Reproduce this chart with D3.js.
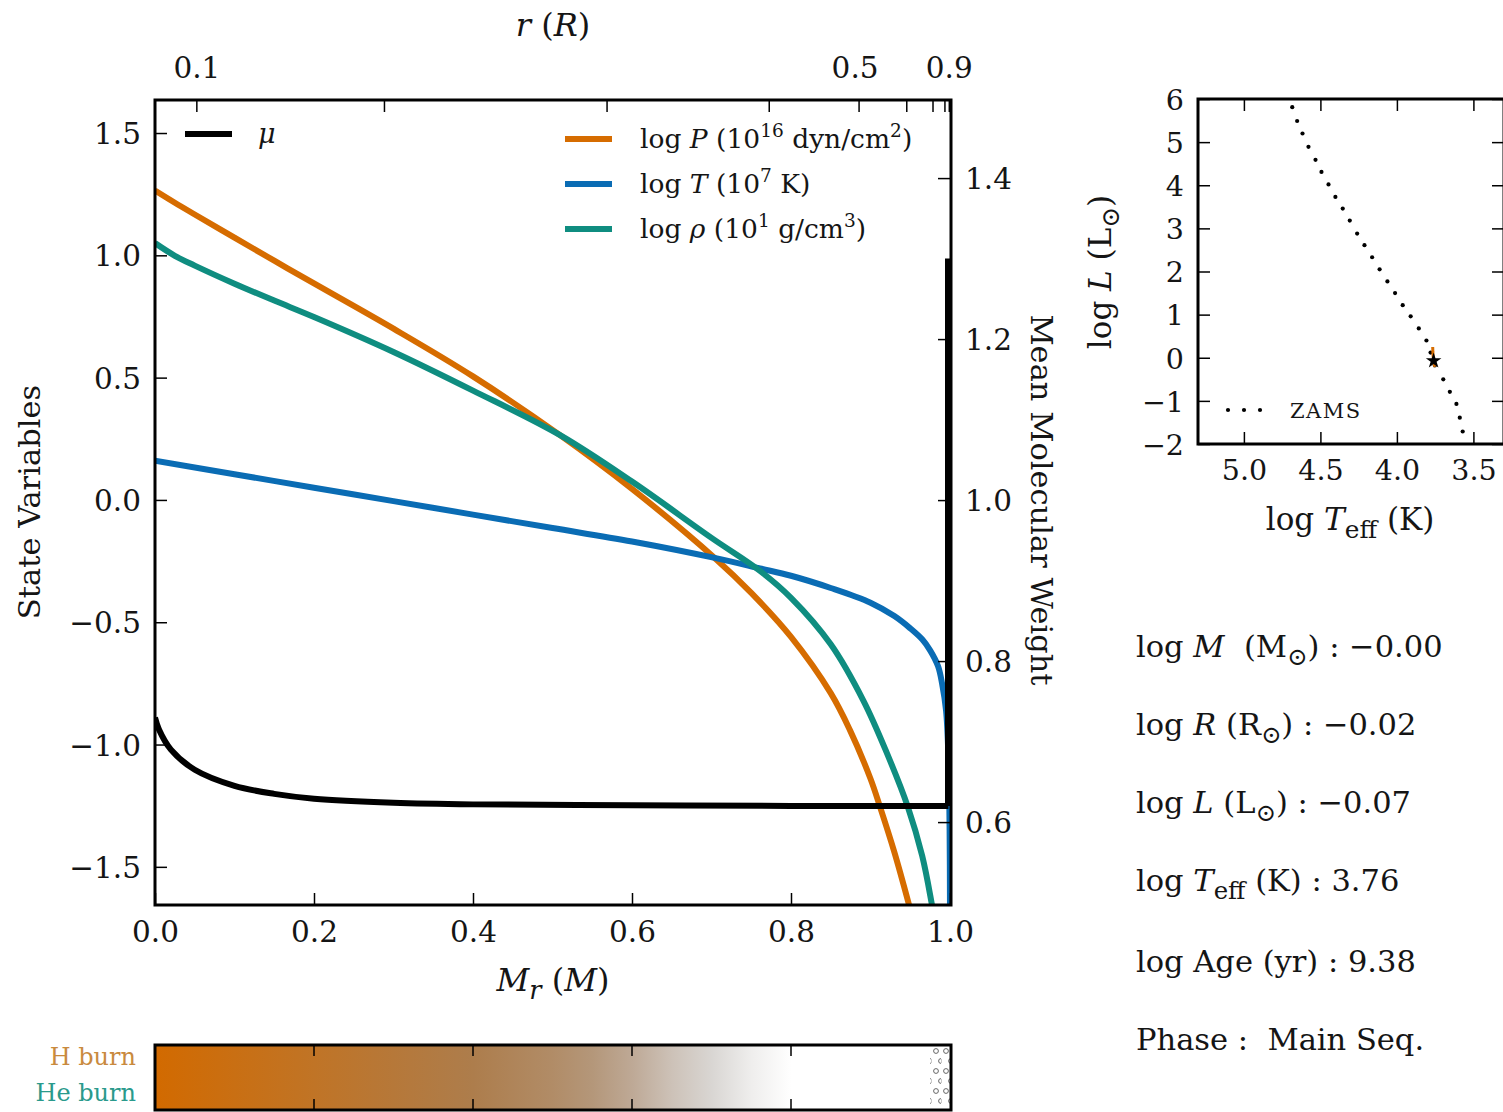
<!DOCTYPE html>
<html><head><meta charset="utf-8">
<script src="https://cdn.jsdelivr.net/npm/d3@7"></script>
<style>
body{margin:0;background:#fff}
svg{display:block}
text{font-family:"DejaVu Serif","Liberation Serif",serif;fill:#151515;white-space:pre}
</style>
</head><body>
<svg id="chart" width="1503" height="1112"></svg>
<script>
// ---- Stellar interior profiles vs. enclosed mass fraction M_r/M ----
const massP   = [0, 0.025, 0.05, 0.1, 0.15, 0.2, 0.3, 0.4, 0.509, 0.6, 0.704, 0.75, 0.8, 0.85, 0.874, 0.9, 0.912, 0.93, 0.948, 0.96];
const logP    = [1.265, 1.215, 1.167, 1.072, 0.978, 0.885, 0.70, 0.505, 0.266, 0.045, -0.237, -0.38, -0.56, -0.79, -0.94, -1.14, -1.255, -1.44, -1.65, -1.80];

const massT   = [0, 0.1, 0.2, 0.3, 0.4, 0.5, 0.6, 0.704, 0.761, 0.8, 0.85, 0.9, 0.93, 0.95, 0.965, 0.975, 0.985, 0.99, 0.995, 0.998, 0.9995, 1.0];
const logT    = [0.16, 0.105, 0.05, -0.005, -0.06, -0.115, -0.17, -0.237, -0.28, -0.31, -0.36, -0.42, -0.475, -0.525, -0.57, -0.615, -0.68, -0.75, -0.86, -1.05, -1.35, -1.7];

const massRho = [0, 0.025, 0.05, 0.1, 0.15, 0.2, 0.3, 0.4, 0.509, 0.6, 0.7, 0.761, 0.8, 0.85, 0.891, 0.92, 0.947, 0.965, 0.977, 0.99];
const logRho  = [1.05, 0.998, 0.958, 0.884, 0.815, 0.748, 0.605, 0.447, 0.266, 0.075, -0.155, -0.29, -0.40, -0.59, -0.82, -1.03, -1.255, -1.455, -1.65, -1.9];

const massMu  = [0, 0.005, 0.02, 0.05, 0.1, 0.15, 0.2, 0.3, 0.4, 0.6, 0.8, 0.99, 0.998, 1.0];
const mu      = [0.73, 0.715, 0.69, 0.665, 0.645, 0.635, 0.629, 0.624, 0.622, 0.621, 0.62, 0.62, 0.62, 1.30];

// radius fraction r/R at which each top-axis tick sits, and its mass coordinate
const rTicks  = [0.1, 0.2, 0.3, 0.4, 0.5, 0.6, 0.7, 0.8, 0.9];
const rMass   = [0.052, 0.288, 0.568, 0.772, 0.885, 0.945, 0.978, 0.993, 0.9985];
const rLabeled = [0.1, 0.5, 0.9];

const xTicks  = [0, 0.2, 0.4, 0.6, 0.8, 1.0];
const yLTicks = [-1.5, -1.0, -0.5, 0, 0.5, 1.0, 1.5];
const yRTicks = [0.6, 0.8, 1.0, 1.2, 1.4];

// nuclear burning rate (normalised) along the mass coordinate
const burnMass = [0, 0.1, 0.2, 0.3, 0.4, 0.5, 0.55, 0.6, 0.65, 0.7, 0.75, 0.8, 1.0];
const hBurn    = [1.0, 0.9, 0.8, 0.7, 0.6, 0.48, 0.4, 0.3, 0.2, 0.12, 0.05, 0.0, 0.0];
const convEnvelope = [0.975, 1.0];

// HR diagram: zero-age main sequence and the star's track
const zamsT = [4.684, 4.652, 4.617, 4.578, 4.532, 4.493, 4.447, 4.402, 4.354, 4.308, 4.260, 4.212, 4.162, 4.113, 4.062, 4.012, 3.962, 3.910, 3.857, 3.807, 3.780, 3.752, 3.697, 3.654, 3.611, 3.589, 3.570];
const zamsL = [5.81, 5.49, 5.20, 4.89, 4.59, 4.31, 4.02, 3.73, 3.46, 3.18, 2.88, 2.61, 2.33, 2.05, 1.77, 1.50, 1.22, 0.96, 0.68, 0.40, 0.12, -0.18, -0.50, -0.79, -1.07, -1.39, -1.71];
const trackT = [3.766, 3.765, 3.763, 3.760, 3.756, 3.752];
const trackL = [0.25, 0.14, 0.03, -0.07, -0.15, -0.21];
const hrXTicks = [5.0, 4.5, 4.0, 3.5];
const hrYTicks = [-2, -1, 0, 1, 2, 3, 4, 5, 6];

// current model summary
const infoKeys   = ["M", "R", "L", "Teff", "Age", "Phase"];
const infoValues = [-0.00, -0.02, -0.07, 3.76, 9.38, "Main Seq."];

const colP = "#d66c00", colT = "#0a6cb4", colRho = "#0f8d80";

const svg = d3.select("#chart");
const fmtMinus = s => s.replace("-", "\u2212");
const fmtSigned = v => ((v < 0 || Object.is(v, -0)) ? "\u2212" : "") + Math.abs(v).toFixed(2);

function richText(g, x, y, parts, size, anchor) {
  const t = g.append("text").attr("x", x).attr("y", y)
    .attr("font-size", size).attr("text-anchor", anchor || "start");
  let off = 0;
  parts.forEach(p => {
    const o = typeof p === "string" ? {t: p} : p;
    const target = o.sup ? -size * 0.42 : o.sub ? size * 0.25 : 0;
    const s = t.append("tspan").attr("dy", target - off).text(o.t);
    off = target;
    if (o.sup || o.sub) s.attr("font-size", size * (o.big ? 0.8 : 0.7));
    if (o.i) s.attr("font-style", "italic");
  });
  return t;
}

// ---------- main profile panel ----------
const P = {left: 155, right: 951, top: 100, bottom: 905};
const x  = d3.scaleLinear().domain([0, 1]).range([P.left, P.right - 1]);
const yL = d3.scaleLinear().domain([-1.656, 1.635]).range([P.bottom, P.top]);
const yR = d3.scaleLinear().domain([0.497, 1.497]).range([P.bottom, P.top]);

svg.append("clipPath").attr("id", "clipMain").append("rect")
  .attr("x", P.left).attr("y", P.top).attr("width", P.right - P.left).attr("height", P.bottom - P.top);

const main = svg.append("g");
const lines = main.append("g").attr("clip-path", "url(#clipMain)");
const smooth = d3.curveCatmullRom.alpha(0.5);

function profile(ms, vs, ys, color, w) {
  const pts = ms.map((m, i) => [m, vs[i]]);
  lines.append("path").datum(pts)
    .attr("fill", "none").attr("stroke", color).attr("stroke-width", w)
    .attr("stroke-linejoin", "round")
    .attr("d", d3.line().x(d => x(d[0])).y(d => ys(d[1])).curve(smooth));
}
profile(massP, logP, yL, colP, 6);
profile(massT, logT, yL, colT, 6);
profile(massRho, logRho, yL, colRho, 6);
// mean molecular weight: jump at the surface drawn as a vertical segment
const muPts = massMu.map((m, i) => [m, mu[i]]);
lines.append("path").datum(muPts.slice(0, -1))
  .attr("fill", "none").attr("stroke", "#000").attr("stroke-width", 6)
  .attr("d", d3.line().x(d => x(d[0])).y(d => yR(d[1])).curve(smooth));
lines.append("path").datum(muPts.slice(-2))
  .attr("fill", "none").attr("stroke", "#000").attr("stroke-width", 6)
  .attr("d", d3.line().x(d => Math.min(x(d[0]), P.right - 3)).y(d => yR(d[1])).curve(d3.curveStepAfter));

// axes (ticks pointing inward)
const tickLen = 12;
const axB = main.append("g").attr("transform", `translate(0,${P.bottom})`)
  .call(d3.axisBottom(x).tickValues(xTicks).tickSizeInner(-tickLen).tickSizeOuter(0).tickPadding(16)
    .tickFormat(d3.format(".1f")));
const axL = main.append("g").attr("transform", `translate(${P.left},0)`)
  .call(d3.axisLeft(yL).tickValues(yLTicks).tickSizeInner(-tickLen).tickSizeOuter(0).tickPadding(14)
    .tickFormat(d => fmtMinus(d3.format(".1f")(d))));
const axR = main.append("g").attr("transform", `translate(${P.right - 1},0)`)
  .call(d3.axisRight(yR).tickValues(yRTicks).tickSizeInner(-tickLen).tickSizeOuter(0).tickPadding(15)
    .tickFormat(d3.format(".1f")));
const xTop = d3.scaleLinear().domain([0, 1]).range([P.left, P.right - 1]);
const axT = main.append("g").attr("transform", `translate(0,${P.top})`)
  .call(d3.axisTop(xTop).tickValues(rMass).tickSizeInner(-tickLen).tickSizeOuter(0).tickPadding(22)
    .tickFormat((d, i) => rLabeled.includes(rTicks[i]) ? d3.format(".1f")(rTicks[i]) : ""));
[axB, axL, axR, axT].forEach(a => {
  a.select(".domain").remove();
  a.selectAll(".tick line").attr("stroke", "#000").attr("stroke-width", 1.5);
  a.selectAll(".tick text").attr("font-size", 29.5).attr("font-family", null).attr("fill", "#151515");
});
axL.selectAll(".tick text").attr("dy", "0.36em");
axR.selectAll(".tick text").attr("dy", "0.36em");
axT.selectAll(".tick text").attr("dx", (d, i) => rTicks[i] === 0.5 ? -4 : 0);

main.append("rect").attr("x", P.left).attr("y", P.top)
  .attr("width", P.right - P.left).attr("height", P.bottom - P.top)
  .attr("fill", "none").attr("stroke", "#000").attr("stroke-width", 3);

// axis titles
richText(main, (P.left + P.right) / 2, 991, [{t: "M", i: 1}, {t: "r", i: 1, sub: 1, big: 1}, " (", {t: "M", i: 1}, ")"], 32, "middle");
richText(main, (P.left + P.right) / 2, 36, [{t: "r", i: 1}, " (", {t: "R", i: 1}, ")"], 32, "middle");
main.append("text").attr("transform", "translate(40,502) rotate(-90)")
  .attr("text-anchor", "middle").attr("font-size", 30.5).text("State Variables");
main.append("text").attr("transform", "translate(1031,500) rotate(90)")
  .attr("text-anchor", "middle").attr("font-size", 30.5).text("Mean Molecular Weight");

// legends
const lg = main.append("g");
lg.append("line").attr("x1", 185).attr("x2", 232).attr("y1", 134).attr("y2", 134)
  .attr("stroke", "#000").attr("stroke-width", 6);
richText(lg, 258, 143, [{t: "\u03bc", i: 1}], 27);
const legItems = [
  {c: colP,   parts: ["log ", {t: "P", i: 1}, " (10", {t: "16", sup: 1}, " dyn/cm", {t: "2", sup: 1}, ")"]},
  {c: colT,   parts: ["log ", {t: "T", i: 1}, " (10", {t: "7", sup: 1}, " K)"]},
  {c: colRho, parts: ["log ", {t: "\u03c1", i: 1}, " (10", {t: "1", sup: 1}, " g/cm", {t: "3", sup: 1}, ")"]}
];
legItems.forEach((it, i) => {
  const yy = 139 + i * 45;
  lg.append("line").attr("x1", 565).attr("x2", 612).attr("y1", yy).attr("y2", yy)
    .attr("stroke", it.c).attr("stroke-width", 6);
  richText(lg, 640, yy + 9, it.parts, 26.5);
});

// ---------- burning bar ----------
const B = {top: 1045, bottom: 1110};
const burnColor = d3.scaleLinear().domain([0, 0.12, 0.35, 0.6, 1])
  .range(["#ffffff", "#d9d6d3", "#b69d85", "#ad7d4c", "#d26a00"]);
const defs = svg.append("defs");
const grad = defs.append("linearGradient").attr("id", "hburn").attr("x1", "0%").attr("x2", "100%");
burnMass.forEach((m, i) => grad.append("stop").attr("offset", `${m * 100}%`).attr("stop-color", burnColor(hBurn[i])));
const pat = defs.append("pattern").attr("id", "conv").attr("patternUnits", "userSpaceOnUse")
  .attr("width", 10).attr("height", 20).attr("x", 931).attr("y", B.top);
pat.append("circle").attr("cx", 5).attr("cy", 6).attr("r", 2.4).attr("fill", "none").attr("stroke", "#555").attr("stroke-width", 0.9);
pat.append("line").attr("x1", 0).attr("x2", 0).attr("y1", 14).attr("y2", 18).attr("stroke", "#777").attr("stroke-width", 0.8);
pat.append("circle").attr("cx", 10).attr("cy", 16).attr("r", 2.4).attr("fill", "none").attr("stroke", "#555").attr("stroke-width", 0.9);

const bar = svg.append("g");
bar.append("rect").attr("x", P.left).attr("y", B.top).attr("width", P.right - P.left).attr("height", B.bottom - B.top)
  .attr("fill", "url(#hburn)");
bar.append("rect").attr("x", x(convEnvelope[0])).attr("y", B.top + 2)
  .attr("width", x(convEnvelope[1]) - x(convEnvelope[0])).attr("height", B.bottom - B.top - 4)
  .attr("fill", "url(#conv)");
xTicks.slice(1, -1).forEach(m => {
  bar.append("line").attr("x1", x(m)).attr("x2", x(m)).attr("y1", B.top).attr("y2", B.top + 11).attr("stroke", "#000").attr("stroke-width", 1.5);
  bar.append("line").attr("x1", x(m)).attr("x2", x(m)).attr("y1", B.bottom - 11).attr("y2", B.bottom).attr("stroke", "#000").attr("stroke-width", 1.5);
});
bar.append("rect").attr("x", P.left).attr("y", B.top).attr("width", P.right - P.left).attr("height", B.bottom - B.top)
  .attr("fill", "none").attr("stroke", "#000").attr("stroke-width", 3);
bar.append("text").attr("x", 136).attr("y", 1065).attr("text-anchor", "end").attr("font-size", 24)
  .style("fill", "#c98a3e").text("H burn");
bar.append("text").attr("x", 136).attr("y", 1101).attr("text-anchor", "end").attr("font-size", 24)
  .style("fill", "#2a9a8c").text("He burn");

// ---------- HR diagram ----------
const H = {left: 1198, right: 1504, top: 99, bottom: 444};
const hx = d3.scaleLinear().domain([5.3, 3.3]).range([H.left, H.right]);
const hy = d3.scaleLinear().domain([-2, 6]).range([H.bottom, H.top]);
const hr = svg.append("g");
svg.append("clipPath").attr("id", "clipHR").append("rect")
  .attr("x", H.left).attr("y", H.top).attr("width", H.right - H.left).attr("height", H.bottom - H.top);
const hrIn = hr.append("g").attr("clip-path", "url(#clipHR)");
hrIn.selectAll("circle.zams").data(zamsT.map((t, i) => [t, zamsL[i]])).enter().append("circle")
  .attr("class", "zams").attr("cx", d => hx(d[0])).attr("cy", d => hy(d[1])).attr("r", 2.1).attr("fill", "#000");
hrIn.append("path").datum(trackT.map((t, i) => [t, trackL[i]]))
  .attr("fill", "none").attr("stroke", colP).attr("stroke-width", 3)
  .attr("d", d3.line().x(d => hx(d[0])).y(d => hy(d[1])));
hrIn.append("path")
  .attr("transform", `translate(${hx(infoValues[3])},${hy(infoValues[2])})`)
  .attr("d", d3.symbol(d3.symbolStar, 75)()).attr("fill", "#000");

const hAxB = hr.append("g").attr("transform", `translate(0,${H.bottom})`)
  .call(d3.axisBottom(hx).tickValues(hrXTicks).tickSizeInner(-tickLen).tickSizeOuter(0).tickPadding(16).tickFormat(d3.format(".1f")));
const hAxT = hr.append("g").attr("transform", `translate(0,${H.top})`)
  .call(d3.axisTop(hx).tickValues(hrXTicks).tickSizeInner(-tickLen).tickSizeOuter(0).tickFormat(""));
const hAxL = hr.append("g").attr("transform", `translate(${H.left},0)`)
  .call(d3.axisLeft(hy).tickValues(hrYTicks).tickSizeInner(-tickLen).tickSizeOuter(0).tickPadding(14).tickFormat(d => fmtMinus(String(d))));
const hAxR = hr.append("g").attr("transform", `translate(${H.right},0)`)
  .call(d3.axisRight(hy).tickValues(hrYTicks).tickSizeInner(-tickLen).tickSizeOuter(0).tickFormat(""));
[hAxB, hAxT, hAxL, hAxR].forEach(a => {
  a.select(".domain").remove();
  a.selectAll(".tick line").attr("stroke", "#000").attr("stroke-width", 1.5);
  a.selectAll(".tick text").attr("font-size", 28.5).attr("font-family", null).attr("fill", "#151515");
});
hAxL.selectAll(".tick text").attr("dy", "0.36em");
hr.append("rect").attr("x", H.left).attr("y", H.top).attr("width", H.right - H.left).attr("height", H.bottom - H.top)
  .attr("fill", "none").attr("stroke", "#000").attr("stroke-width", 3);
[0, 1, 2].forEach(k => hr.append("circle").attr("cx", 1228 + k * 16).attr("cy", 410).attr("r", 2.1).attr("fill", "#000"));
hr.append("text").attr("x", 1290).attr("y", 418).attr("font-size", 21).attr("letter-spacing", 1.5).text("ZAMS");
richText(hr, 1350, 530, ["log ", {t: "T", i: 1}, {t: "eff", sub: 1, big: 1}, " (K)"], 31, "middle");
const lt = richText(hr, 0, 0, ["log ", {t: "L", i: 1}, " (L", {t: "\u2299", sub: 1, big: 1}, ")"], 31, "middle");
lt.attr("x", null).attr("y", null).attr("transform", "translate(1111,272) rotate(-90)");

// ---------- model summary ----------
const info = svg.append("g");
const infoLines = [
  ["log ", {t: "M", i: 1}, "  (M", {t: "\u2299", sub: 1, big: 1}, ") : " + fmtSigned(infoValues[0])],
  ["log ", {t: "R", i: 1}, " (R", {t: "\u2299", sub: 1, big: 1}, ") : " + fmtSigned(infoValues[1])],
  ["log ", {t: "L", i: 1}, " (L", {t: "\u2299", sub: 1, big: 1}, ") : " + fmtSigned(infoValues[2])],
  ["log ", {t: "T", i: 1}, {t: "eff", sub: 1, big: 1}, " (K) : " + infoValues[3].toFixed(2)],
  ["log Age (yr) : " + infoValues[4].toFixed(2)],
  ["Phase :  " + infoValues[5]]
];
const infoY = [657, 735, 813, 891, 972, 1050];
infoLines.forEach((parts, i) => richText(info, 1136, infoY[i], parts, 30.5));
</script>
</body></html>
